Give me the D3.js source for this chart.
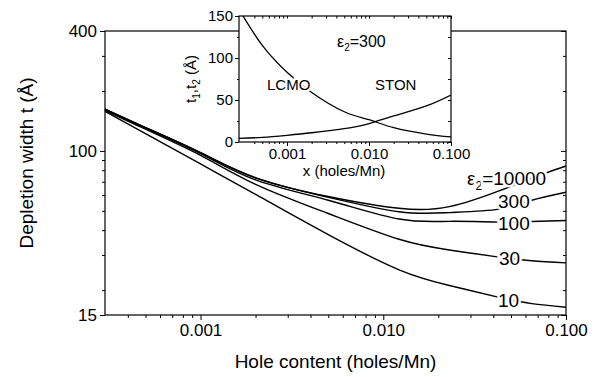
<!DOCTYPE html>
<html>
<head>
<meta charset="utf-8">
<script src="https://cdn.jsdelivr.net/npm/d3@7"></script>
<style>
  body { margin: 0; background: #fff; }
  svg { display: block; font-family: "Liberation Sans", Arial, sans-serif; }
</style>
</head>
<body>
<svg id="chart" width="599" height="377"></svg>
<script>
// main plot: depletion width vs hole content, one curve per eps2
const holeX = [0.0003, 0.0005, 0.001, 0.002, 0.005, 0.0122, 0.023, 0.043, 0.065, 0.1];
const eps10000 = [162, 131, 98, 73.5, 59, 51.5, 52.5, 63, 73, 84];
const eps300 = [162, 131, 98, 73, 58.5, 49.5, 49, 51, 56.5, 62];
const eps100 = [161, 130, 97, 71.5, 56.5, 45.5, 44.3, 43.9, 44.2, 44.7];
const eps30 = [160, 128.5, 95, 68, 48.5, 36, 31.8, 29.3, 28.1, 27.4];
const eps10 = [158, 122, 86, 60.5, 38, 25.3, 21.1, 18.4, 17.1, 16.4];
const curveNames = ["10000", "300", "100", "30", "10"];

const xMajor = [0.001, 0.01, 0.1];
const xMinor = [0.0004, 0.0005, 0.0006, 0.0007, 0.0008, 0.0009,
  0.002, 0.003, 0.004, 0.005, 0.006, 0.007, 0.008, 0.009,
  0.02, 0.03, 0.04, 0.05, 0.06, 0.07, 0.08, 0.09];
const yMajor = [15, 100, 400];
const yMinor = [20, 30, 40, 50, 60, 70, 80, 90, 200, 300];

// inset: t1, t2 at eps2 = 300
const insetX = [0.00026, 0.0005, 0.001, 0.002, 0.005, 0.01, 0.02, 0.05, 0.1];
const lcmo = [158, 115, 83, 59, 36, 26.5, 17, 9.5, 6];
const ston = [4.3, 5.5, 8, 11, 16, 22, 31, 43, 56];
const insetYMajor = [0, 50, 100, 150];
const insetYMinor = [25, 75, 125];

const svg = d3.select("#chart");
const fmt = d3.format(".3f");

// ---------- main plot ----------
const m = { left: 105, right: 566, top: 31, bottom: 315 };

const x = d3.scaleLog().domain([0.0003, 0.1]).range([m.left, m.right]);
const y = d3.scaleLog().domain([15, 400]).range([m.bottom, m.top]);

svg.append("rect")
  .attr("x", m.left).attr("y", m.top)
  .attr("width", m.right - m.left).attr("height", m.bottom - m.top)
  .attr("fill", "none").attr("stroke", "#000").attr("stroke-width", 1.2);

function styleAxis(g, fs) {
  g.select(".domain").remove();
  g.selectAll("line").attr("stroke", "#000").attr("stroke-width", 1);
  g.selectAll("text").attr("fill", "#000").attr("font-size", fs)
    .attr("font-family", "Liberation Sans, Arial, sans-serif");
}

svg.append("g").attr("transform", `translate(0,${m.bottom})`)
  .call(d3.axisBottom(x).tickValues(xMajor).tickFormat(fmt).tickSize(5).tickPadding(4))
  .call(g => styleAxis(g, "17px"));
svg.append("g").attr("transform", `translate(0,${m.bottom})`)
  .call(d3.axisBottom(x).tickValues(xMinor).tickFormat("").tickSize(3))
  .call(g => styleAxis(g, "17px"));

svg.append("g").attr("transform", `translate(${m.left},0)`)
  .call(d3.axisLeft(y).tickValues(yMajor).tickFormat(d3.format("d")).tickSize(5).tickPadding(3))
  .call(g => styleAxis(g, "17px"));
svg.append("g").attr("transform", `translate(${m.left},0)`)
  .call(d3.axisLeft(y).tickValues(yMinor).tickFormat("").tickSize(3))
  .call(g => styleAxis(g, "17px"));

// mirror ticks on the right, pointing in
svg.append("g").attr("transform", `translate(${m.right},0)`)
  .call(d3.axisLeft(y).tickValues(yMajor).tickFormat("").tickSize(5))
  .call(g => styleAxis(g, "17px"));
svg.append("g").attr("transform", `translate(${m.right},0)`)
  .call(d3.axisLeft(y).tickValues(yMinor).tickFormat("").tickSize(3))
  .call(g => styleAxis(g, "17px"));

svg.append("text")
  .attr("x", (m.left + m.right) / 2).attr("y", 368)
  .attr("text-anchor", "middle").attr("font-size", "19px")
  .text("Hole content (holes/Mn)");

svg.append("text")
  .attr("transform", `translate(33,163) rotate(-90)`)
  .attr("text-anchor", "middle").attr("font-size", "19px")
  .text("Depletion width t (\u00C5)");

const line = d3.line()
  .x(d => x(d[0]))
  .y(d => y(d[1]))
  .curve(d3.curveNatural);

const series = [eps10000, eps300, eps100, eps30, eps10];
svg.append("g").selectAll("path")
  .data(series)
  .join("path")
  .attr("d", s => line(s.map((v, i) => [holeX[i], v])))
  .attr("fill", "none")
  .attr("stroke", "#000")
  .attr("stroke-width", 1.4);

// curve labels, white halo cuts the line under them
const labelPos = [
  { x: 467, y: 185 },
  { x: 498, y: 208 },
  { x: 498, y: 230 },
  { x: 499, y: 265 },
  { x: 498, y: 307 }
];
const lab = svg.append("g").attr("font-size", "19px");
curveNames.forEach((name, i) => {
  const t = lab.append("text")
    .attr("x", labelPos[i].x).attr("y", labelPos[i].y)
    .attr("stroke", "#fff").attr("stroke-width", 5)
    .attr("paint-order", "stroke").attr("fill", "#000");
  if (i === 0) {
    t.append("tspan").text("\u03B5");
    t.append("tspan").attr("font-size", "12px").attr("dy", 5).text("2");
    t.append("tspan").attr("dy", -5).text("=" + name);
  } else {
    t.text(name);
  }
});

// ---------- inset ----------
const n = { left: 239, right: 451, top: 16, bottom: 142 };
const xi = d3.scaleLog().domain([0.00026, 0.1]).range([n.left, n.right]);
const yi = d3.scaleLinear().domain([0, 150]).range([n.bottom, n.top]);

svg.append("rect")
  .attr("x", n.left).attr("y", n.top)
  .attr("width", n.right - n.left).attr("height", n.bottom - n.top)
  .attr("fill", "#fff").attr("stroke", "#000").attr("stroke-width", 1.2);

svg.append("defs").append("clipPath").attr("id", "insetClip")
  .append("rect")
  .attr("x", n.left).attr("y", n.top)
  .attr("width", n.right - n.left).attr("height", n.bottom - n.top);

svg.append("g").attr("transform", `translate(0,${n.bottom})`)
  .call(d3.axisBottom(xi).tickValues(xMajor).tickFormat(fmt).tickSize(4).tickPadding(2))
  .call(g => styleAxis(g, "15px"));
svg.append("g").attr("transform", `translate(0,${n.bottom})`)
  .call(d3.axisBottom(xi).tickValues(xMinor).tickFormat("").tickSize(2))
  .call(g => styleAxis(g, "15px"));
svg.append("g").attr("transform", `translate(0,${n.top})`)
  .call(d3.axisBottom(xi).tickValues(xMajor.concat(xMinor)).tickFormat("").tickSize(2.5))
  .call(g => styleAxis(g, "15px"));

svg.append("g").attr("transform", `translate(${n.left},0)`)
  .call(d3.axisLeft(yi).tickValues(insetYMajor).tickSize(4).tickPadding(2))
  .call(g => styleAxis(g, "15px"));
svg.append("g").attr("transform", `translate(${n.left},0)`)
  .call(d3.axisLeft(yi).tickValues(insetYMinor).tickFormat("").tickSize(2))
  .call(g => styleAxis(g, "15px"));
svg.append("g").attr("transform", `translate(${n.right},0)`)
  .call(d3.axisLeft(yi).tickValues(insetYMajor.concat(insetYMinor)).tickFormat("").tickSize(3))
  .call(g => styleAxis(g, "15px"));

svg.append("text")
  .attr("x", 344).attr("y", 176)
  .attr("text-anchor", "middle").attr("font-size", "15px")
  .text("x (holes/Mn)");

const yt = svg.append("text")
  .attr("transform", `translate(196,79) rotate(-90)`)
  .attr("text-anchor", "middle").attr("font-size", "15px");
yt.append("tspan").text("t");
yt.append("tspan").attr("font-size", "10px").attr("dy", 4).text("1");
yt.append("tspan").attr("dy", -4).text(",t");
yt.append("tspan").attr("font-size", "10px").attr("dy", 4).text("2");
yt.append("tspan").attr("dy", -4).text(" (\u00C5)");

const iline = d3.line()
  .x(d => xi(d[0]))
  .y(d => yi(d[1]))
  .curve(d3.curveNatural);

svg.append("g").attr("clip-path", "url(#insetClip)")
  .selectAll("path")
  .data([lcmo, ston])
  .join("path")
  .attr("d", s => iline(s.map((v, i) => [insetX[i], v])))
  .attr("fill", "none")
  .attr("stroke", "#000")
  .attr("stroke-width", 1.3);

const it = svg.append("g").attr("font-size", "15px");
it.append("text").attr("x", 267).attr("y", 90)
  .attr("stroke", "#fff").attr("stroke-width", 5).attr("paint-order", "stroke")
  .text("LCMO");
it.append("text").attr("x", 375).attr("y", 90).text("STON");
const e = it.append("text").attr("x", 337).attr("y", 47).attr("font-size", "16px");
e.append("tspan").text("\u03B5");
e.append("tspan").attr("font-size", "10px").attr("dy", 4).text("2");
e.append("tspan").attr("dy", -4).text("=300");
</script>
</body>
</html>
